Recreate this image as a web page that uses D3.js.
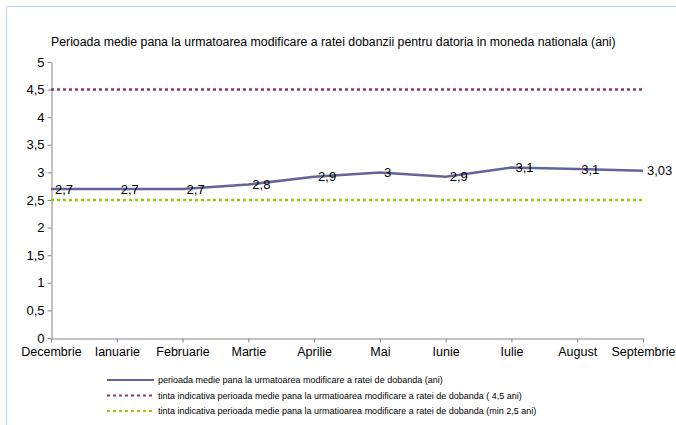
<!DOCTYPE html>
<meta charset="UTF-8">
<head>
    <script src="https://d3js.org/d3.v7.min.js"></script>
    <style>
        body { margin: 0; background: #fff; }
        text { font-family: "Liberation Sans", Arial, sans-serif; fill: #000; }
        .axis path, .axis line { stroke: #868686; }
        .legend text { font-family: "Liberation Sans Narrow", "Liberation Sans", Arial, sans-serif; font-size: 9px; }
    </style>
</head>
<body>
<script>
    var months = ["Decembrie", "Ianuarie", "Februarie", "Martie", "Aprilie", "Mai", "Iunie", "Iulie", "August", "Septembrie"];
    var values = [2.7, 2.7, 2.7, 2.78, 2.92, 3.0, 2.92, 3.09, 3.06, 3.03];
    var valueLabels = ["2,7", "2,7", "2,7", "2,8", "2,9", "3", "2,9", "3,1", "3,1", "3,03"];
    var targetMax = 4.5;
    var targetMin = 2.5;
    var yTicks = [0, 0.5, 1, 1.5, 2, 2.5, 3, 3.5, 4, 4.5, 5];
    var legendNames = [
        "perioada medie pana la urmatoarea modificare a ratei de dobanda (ani)",
        "tinta indicativa perioada medie pana la urmatioarea modificare a ratei de dobanda ( 4,5 ani)",
        "tinta indicativa perioada medie pana la urmatioarea modificare a ratei de dobanda (min 2,5 ani)"
    ];

    var width = 676, height = 425;
    var margin = { left: 51, right: 643, top: 62, bottom: 338 };

    var svg = d3.select("body").append("svg")
        .attr("width", width)
        .attr("height", height);

    // chart frame
    svg.append("path")
        .attr("d", "M6.5," + height + " L6.5,6.5 L" + width + ",6.5")
        .attr("fill", "none")
        .attr("stroke", "#c3d3ea")
        .attr("stroke-width", 1);

    svg.append("text")
        .attr("x", 51)
        .attr("y", 46)
        .style("font-size", "12.3px")
        .text("Perioada medie pana la urmatoarea modificare a ratei dobanzii pentru datoria in moneda nationala (ani)");

    var x = d3.scalePoint().domain(months).range([margin.left, margin.right]);
    var y = d3.scaleLinear().domain([0, 5]).range([margin.bottom, margin.top]);

    var fmt = function (d) { return String(d).replace(".", ","); };

    var yAxis = svg.append("g")
        .attr("class", "axis")
        .attr("transform", "translate(" + (margin.left + 0.5) + ",0)")
        .call(d3.axisLeft(y).tickValues(yTicks).tickFormat(fmt).tickSize(4).tickSizeOuter(0).tickPadding(3));
    yAxis.selectAll("text").style("font-size", "13px");

    var xAxis = svg.append("g")
        .attr("class", "axis")
        .attr("transform", "translate(0," + (margin.bottom + 0.5) + ")")
        .call(d3.axisBottom(x).tickSize(4).tickSizeOuter(0).tickPadding(5));
    xAxis.selectAll("text").style("font-size", "12.5px");

    // target lines
    svg.append("line")
        .attr("x1", margin.left).attr("x2", margin.right)
        .attr("y1", y(targetMax)).attr("y2", y(targetMax))
        .attr("stroke", "#993366").attr("stroke-width", 2.5)
        .attr("stroke-dasharray", "3,3");

    svg.append("line")
        .attr("x1", margin.left).attr("x2", margin.right)
        .attr("y1", y(targetMin)).attr("y2", y(targetMin))
        .attr("stroke", "#99cc00").attr("stroke-width", 2.5)
        .attr("stroke-dasharray", "3,3");

    var line = d3.line()
        .x(function (d, i) { return x(months[i]); })
        .y(function (d) { return y(d); });

    svg.append("path")
        .datum(values)
        .attr("d", line)
        .attr("fill", "none")
        .attr("stroke", "#64649a")
        .attr("stroke-width", 2.5);

    svg.selectAll("text.val")
        .data(values)
        .enter()
        .append("text")
        .attr("class", "val")
        .attr("x", function (d, i) { return x(months[i]) + 4; })
        .attr("y", function (d) { return y(d); })
        .attr("dy", "0.35em")
        .style("font-size", "13px")
        .text(function (d, i) { return valueLabels[i]; });

    // legend
    var legendColors = ["#64649a", "#993366", "#99cc00"];
    var legendDash = [null, "3,3", "3,3"];
    var legend = svg.append("g").attr("class", "legend");
    legendNames.forEach(function (name, i) {
        var ly = 380 + i * 15.5;
        legend.append("line")
            .attr("x1", 107).attr("x2", 154)
            .attr("y1", ly).attr("y2", ly)
            .attr("stroke", legendColors[i])
            .attr("stroke-width", 2)
            .attr("stroke-dasharray", legendDash[i]);
        legend.append("text")
            .attr("x", 158)
            .attr("y", ly)
            .attr("dy", "0.35em")
            .text(name);
    });
</script>
</body>
